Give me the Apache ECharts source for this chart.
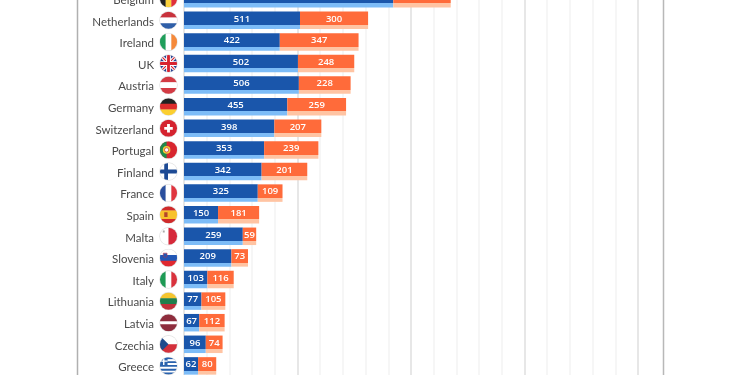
<!DOCTYPE html>
<html>
<head>
<meta charset="utf-8">
<title>Chart</title>
<style>
  html, body { margin: 0; padding: 0; background: #fff; }
  #chart { width: 750px; height: 375px; }
</style>
<script src="https://cdn.jsdelivr.net/npm/echarts@6/dist/echarts.min.js"></script>
</head>
<body>
<div id="chart"></div>
<script>
const countries = ['Belgium', 'Netherlands', 'Ireland', 'UK', 'Austria', 'Germany', 'Switzerland', 'Portugal', 'Finland', 'France', 'Spain', 'Malta', 'Slovenia', 'Italy', 'Lithuania', 'Latvia', 'Czechia', 'Greece'];
const blueValues = [922, 511, 422, 502, 506, 455, 398, 353, 342, 325, 150, 259, 209, 103, 77, 67, 96, 62];
const orangeValues = [253, 300, 347, 248, 228, 259, 207, 239, 201, 109, 181, 59, 73, 116, 105, 112, 74, 80];

// flags, drawn on a 36x36 box and cut to a circle
const hBands = cols => cols.map((c, i) => `<rect x="0" y="${i * 36 / cols.length}" width="36" height="${36 / cols.length + 0.5}" fill="${c}"/>`).join('');
const vBands = cols => cols.map((c, i) => `<rect x="${i * 36 / cols.length}" y="0" width="${36 / cols.length + 0.5}" height="36" fill="${c}"/>`).join('');
const flagArt = {
  Belgium: vBands(['#222', '#fbd13c', '#e0303a']),
  Netherlands: hBands(['#c8323c', '#fff', '#2f5fa8']),
  Ireland: vBands(['#1f9e5a', '#fff', '#f5893a']),
  UK: '<rect width="36" height="36" fill="#27408f"/><path d="M0 0L36 36M36 0L0 36" stroke="#fff" stroke-width="7"/><path d="M0 0L36 36M36 0L0 36" stroke="#d8232f" stroke-width="2.5"/><path d="M18 0V36M0 18H36" stroke="#fff" stroke-width="10"/><path d="M18 0V36M0 18H36" stroke="#d8232f" stroke-width="6"/>',
  Austria: hBands(['#d33b44', '#fff', '#d33b44']),
  Germany: hBands(['#222', '#dd2c2c', '#fbcf30']),
  Switzerland: '<rect width="36" height="36" fill="#d5232f"/><path d="M18 9V27M9 18H27" stroke="#fff" stroke-width="6"/>',
  Portugal: '<rect width="36" height="36" fill="#d8262f"/><rect width="14" height="36" fill="#1f8a4c"/><circle cx="14" cy="18" r="8" fill="#f3cd3a"/><circle cx="14" cy="18" r="4.5" fill="#fff" stroke="#c8323c" stroke-width="1.5"/>',
  Finland: '<rect width="36" height="36" fill="#fff"/><path d="M13 0V36M0 18H36" stroke="#1d4a94" stroke-width="8"/>',
  France: vBands(['#2a4f9e', '#fff', '#e0353f']),
  Spain: hBands(['#cf2b2b', '#f8c22c', '#f8c22c', '#cf2b2b']) + '<rect x="9" y="13" width="7" height="10" fill="#b5452c"/>',
  Malta: vBands(['#fff', '#d6293a']) + '<path d="M6 6H10V10H6z" fill="#aaa"/>',
  Slovenia: hBands(['#fff', '#2257b5', '#e0282f']) + '<path d="M7 8H15V15Q11 20 7 15z" fill="#2257b5" stroke="#e0282f"/>',
  Italy: vBands(['#1d9a54', '#fff', '#d9323d']),
  Lithuania: hBands(['#f5c52f', '#1f7f4c', '#c0303a']),
  Latvia: '<rect width="36" height="36" fill="#8e2d3d"/><rect y="15" width="36" height="6" fill="#fff"/>',
  Czechia: hBands(['#fff', '#d4303b']) + '<path d="M0 0L18 18L0 36z" fill="#1f4a8c"/>',
  Greece: hBands(['#2a62ad', '#fff', '#2a62ad', '#fff', '#2a62ad', '#fff', '#2a62ad', '#fff', '#2a62ad']) + '<rect width="16" height="16" fill="#2a62ad"/><path d="M8 0V16M0 8H16" stroke="#fff" stroke-width="3"/>'
};
const flagImage = name => 'data:image/svg+xml;charset=utf-8,' + encodeURIComponent(
  `<svg xmlns="http://www.w3.org/2000/svg" width="72" height="72" viewBox="-2 -2 40 40"><defs><clipPath id="c"><circle cx="18" cy="18" r="18"/></clipPath></defs><circle cx="18" cy="18" r="19.5" fill="#e4e4e4"/><g clip-path="url(#c)">${flagArt[name]}</g></svg>`
);

const labelRich = {
  n: { fontFamily: 'Lato', fontSize: 11.5, color: '#4a4a4a', padding: [3, 5, 0, 0] }
};
countries.forEach((name, i) => {
  labelRich['f' + i] = { width: 19, height: 19, backgroundColor: { image: flagImage(name) } };
});

const twoTone = (dark, light) => new echarts.graphic.LinearGradient(0, 0, 0, 1, [
  { offset: 0, color: dark },
  { offset: 0.77, color: dark },
  { offset: 0.77, color: light },
  { offset: 1, color: light }
]);
const barLabel = {
  show: true,
  position: 'inside',
  offset: [0, -1.5],
  color: '#fff',
  fontFamily: 'Open Sans',
  fontWeight: 600,
  fontSize: 9.5
};

const chart = echarts.init(document.getElementById('chart'), null, { renderer: 'canvas' });
chart.setOption({
  animation: false,
  backgroundColor: '#fff',
  grid: { left: 184, top: -12.1, width: 476.7, height: 388.8, outerBoundsMode: 'none' },
  xAxis: {
    type: 'value',
    min: 0,
    max: 2100,
    interval: 500,
    axisLabel: { show: false },
    axisLine: { show: false },
    axisTick: { show: false },
    minorTick: { show: false, splitNumber: 5 },
    splitLine: { show: true, showMaxLine: false, lineStyle: { color: '#dfdfdf', width: 1.5 } },
    minorSplitLine: { show: true, lineStyle: { color: '#f3f3f3', width: 1.5 } }
  },
  yAxis: {
    type: 'category',
    inverse: true,
    data: countries,
    axisLine: { show: false },
    axisTick: { show: false },
    axisLabel: {
      interval: 0,
      margin: 6,
      formatter: (value, i) => `{n|${value}}{f${i}|}`,
      rich: labelRich
    }
  },
  series: [
    {
      name: 'Blue',
      type: 'bar',
      stack: 'total',
      barWidth: 17.5,
      data: blueValues,
      itemStyle: { color: twoTone('#1a56ab', '#7dbcf7') },
      label: barLabel
    },
    {
      name: 'Orange',
      type: 'bar',
      stack: 'total',
      barWidth: 17.5,
      data: orangeValues,
      itemStyle: { color: twoTone('#ff6b3a', '#ffc4a3') },
      label: barLabel
    }
  ],
  graphic: [
    { type: 'line', silent: true, shape: { x1: 77.5, y1: 0, x2: 77.5, y2: 375 }, style: { stroke: '#b0b0b0', lineWidth: 1.5 } },
    { type: 'line', silent: true, shape: { x1: 663.5, y1: 0, x2: 663.5, y2: 375 }, style: { stroke: '#b8b8b8', lineWidth: 1.5 } }
  ]
});
</script>
</body>
</html>
